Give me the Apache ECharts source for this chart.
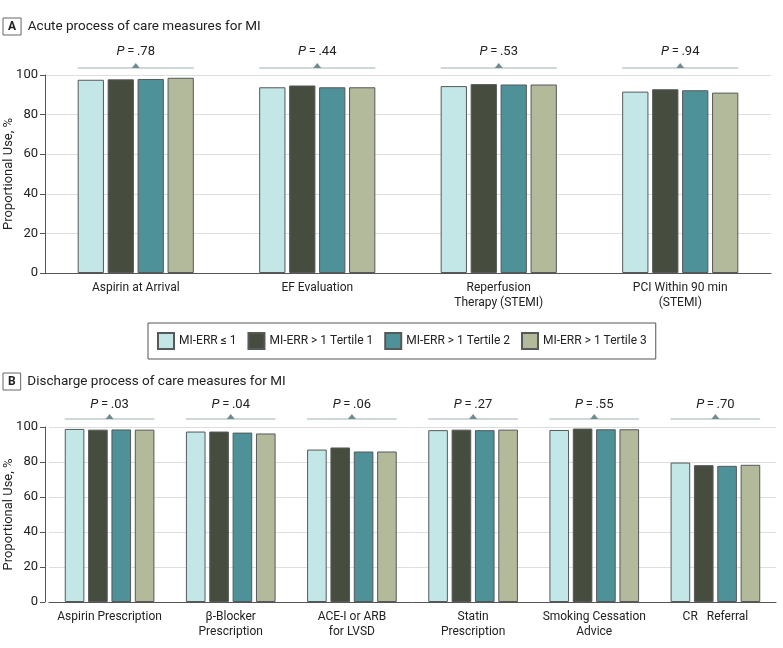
<!DOCTYPE html>
<html>
<head>
<meta charset="utf-8">
<script src="https://cdn.jsdelivr.net/npm/echarts@6/dist/echarts.min.js"></script>
<style>
html,body{margin:0;padding:0;background:#fff;}
#chart{width:783px;height:648px;}
</style>
</head>
<body>
<div id="chart"></div>
<script>
// ---- data ----
var seriesNames = ['MI-ERR \u2264 1', 'MI-ERR > 1 Tertile 1', 'MI-ERR > 1 Tertile 2', 'MI-ERR > 1 Tertile 3'];

var acuteCategories = ['Aspirin at Arrival', 'EF Evaluation', 'Reperfusion\nTherapy (STEMI)', 'PCI Within 90 min\n(STEMI)'];
var acuteErrLe1   = [97.6, 93.8, 94.4, 91.6];
var acuteTertile1 = [97.8, 94.7, 95.4, 92.8];
var acuteTertile2 = [98.0, 93.8, 95.2, 92.3];
var acuteTertile3 = [98.6, 93.8, 95.2, 91.1];
var acutePValues  = ['.78', '.44', '.53', '.94'];

var dischargeCategories = ['Aspirin Prescription', '\u03b2-Blocker\nPrescription', 'ACE-I or ARB\nfor LVSD', 'Statin\nPrescription', 'Smoking Cessation\nAdvice', 'CR   Referral'];
var dischargeErrLe1   = [98.9, 97.4, 87.1, 98.2, 98.3, 79.7];
var dischargeTertile1 = [98.5, 97.4, 88.3, 98.5, 99.1, 78.2];
var dischargeTertile2 = [98.6, 96.8, 86.0, 98.2, 98.7, 77.8];
var dischargeTertile3 = [98.5, 96.3, 86.0, 98.5, 98.7, 78.4];
var dischargePValues  = ['.03', '.04', '.06', '.27', '.55', '.70'];

var yTicks = [0, 20, 40, 60, 80, 100];

// ---- styles ----
var colors = ['#c3e6e6', '#474d3e', '#4f9199', '#b3b99b'];
var FONT = 'Roboto';

function barSeries(gridIdx, values, i, catGap, barGap) {
  return {
    type: 'bar', name: seriesNames[i],
    xAxisIndex: gridIdx, yAxisIndex: gridIdx,
    data: values,
    barGap: barGap, barCategoryGap: catGap,
    itemStyle: {color: colors[i], borderColor: '#55595a', borderWidth: 1},
    emphasis: {disabled: true},
    animation: false
  };
}

function pSeries(gridIdx, pvals, groupFrac, textOff, lineOff) {
  return {
    type: 'custom', name: 'p' + gridIdx,
    xAxisIndex: gridIdx, yAxisIndex: gridIdx,
    clip: false, silent: true, animation: false,
    data: pvals.map(function (p, i) { return [i, 100]; }),
    encode: {x: 0, y: 1},
    renderItem: function (params, api) {
      var c = api.coord([api.value(0), 100]);
      var cw = api.size([1, 0])[0];
      var half = cw * groupFrac / 2;
      var ly = c[1] - lineOff;
      return {
        type: 'group',
        children: [
          {type: 'line', shape: {x1: c[0] - half, y1: ly, x2: c[0] + half, y2: ly},
           style: {stroke: '#9fb0b0', lineWidth: 1}},
          {type: 'polygon', shape: {points: [[c[0] - 4, ly], [c[0] + 4, ly], [c[0], ly - 5]]},
           style: {fill: '#6f8b8f'}},
          {type: 'text', style: {
            text: '{i|P}\u2009=\u2009' + pvals[params.dataIndex],
            x: c[0], y: c[1] - textOff, align: 'center', verticalAlign: 'middle',
            fontSize: 13, fontFamily: FONT, fill: '#222',
            rich: {i: {fontStyle: 'italic', fontSize: 13, fontFamily: FONT, fill: '#222'}}
          }}
        ]
      };
    }
  };
}

var grids = [
  {left: 45, right: 12, top: 75, height: 198, containLabel: false, outerBoundsMode: 'none'},
  {left: 49, right: 7, top: 427, height: 175, containLabel: false, outerBoundsMode: 'none'}
];

function xAxisDef(gridIdx, cats) {
  return {
    type: 'category', gridIndex: gridIdx, data: cats,
    axisLine: {lineStyle: {color: '#555', width: 1}},
    axisTick: {show: false},
    axisLabel: {color: '#222', fontSize: 12, fontFamily: FONT, lineHeight: 15, margin: 7, interval: 0}
  };
}
function yAxisDef(gridIdx, offset) {
  return {
    type: 'value', gridIndex: gridIdx, min: yTicks[0], max: yTicks[yTicks.length - 1], interval: 20,
    offset: offset,
    name: 'Proportional Use, %', nameLocation: 'middle', nameGap: 30, nameMoveOverlap: false,
    nameTextStyle: {color: '#222', fontSize: 13, fontFamily: FONT},
    axisLine: {show: true, lineStyle: {color: '#555', width: 1}},
    axisTick: {show: true, length: 5, lineStyle: {color: '#555'}},
    axisLabel: {color: '#222', fontSize: 13, fontFamily: FONT, margin: 7},
    splitLine: {lineStyle: {color: '#dedede', width: 1}}
  };
}

var titleRich = {b: {fontSize: 12, fontWeight: 'bold', color: '#222', borderColor: '#666', borderWidth: 1, padding: [3, 5, 2, 5], fontFamily: FONT}};

var option = {
  backgroundColor: '#fff',
  textStyle: {fontFamily: FONT},
  title: [
    {text: '{b|A}  Acute process of care measures for MI', left: 3, top: 18, padding: 0,
     textStyle: {fontSize: 13.5, fontWeight: 'normal', color: '#222', fontFamily: FONT, rich: titleRich}},
    {text: '{b|B}  Discharge process of care measures for MI', left: 3, top: 373, padding: 0,
     textStyle: {fontSize: 13.5, fontWeight: 'normal', color: '#222', fontFamily: FONT, rich: titleRich}}
  ],
  legend: {
    data: seriesNames,
    left: 148, top: 323,
    padding: [9, 9, 9, 9],
    borderColor: '#555', borderWidth: 1,
    icon: 'rect',
    itemWidth: 16, itemHeight: 16, itemGap: 11,
    textStyle: {color: '#222', fontSize: 12, fontFamily: FONT},
    selectedMode: false
  },
  grid: grids,
  xAxis: [xAxisDef(0, acuteCategories), xAxisDef(1, dischargeCategories)],
  yAxis: [yAxisDef(0, 0), yAxisDef(1, 4)],
  series: [
    barSeries(0, acuteErrLe1, 0, '36%', '14%'),
    barSeries(0, acuteTertile1, 1, '36%', '14%'),
    barSeries(0, acuteTertile2, 2, '36%', '14%'),
    barSeries(0, acuteTertile3, 3, '36%', '14%'),
    barSeries(1, dischargeErrLe1, 0, '26%', '19%'),
    barSeries(1, dischargeTertile1, 1, '26%', '19%'),
    barSeries(1, dischargeTertile2, 2, '26%', '19%'),
    barSeries(1, dischargeTertile3, 3, '26%', '19%'),
    pSeries(0, acutePValues, 0.64, 23, 7),
    pSeries(1, dischargePValues, 0.74, 22, 8)
  ]
};

var chart = echarts.init(document.getElementById('chart'), null, {renderer: 'canvas'});
chart.setOption(option);
</script>
</body>
</html>
